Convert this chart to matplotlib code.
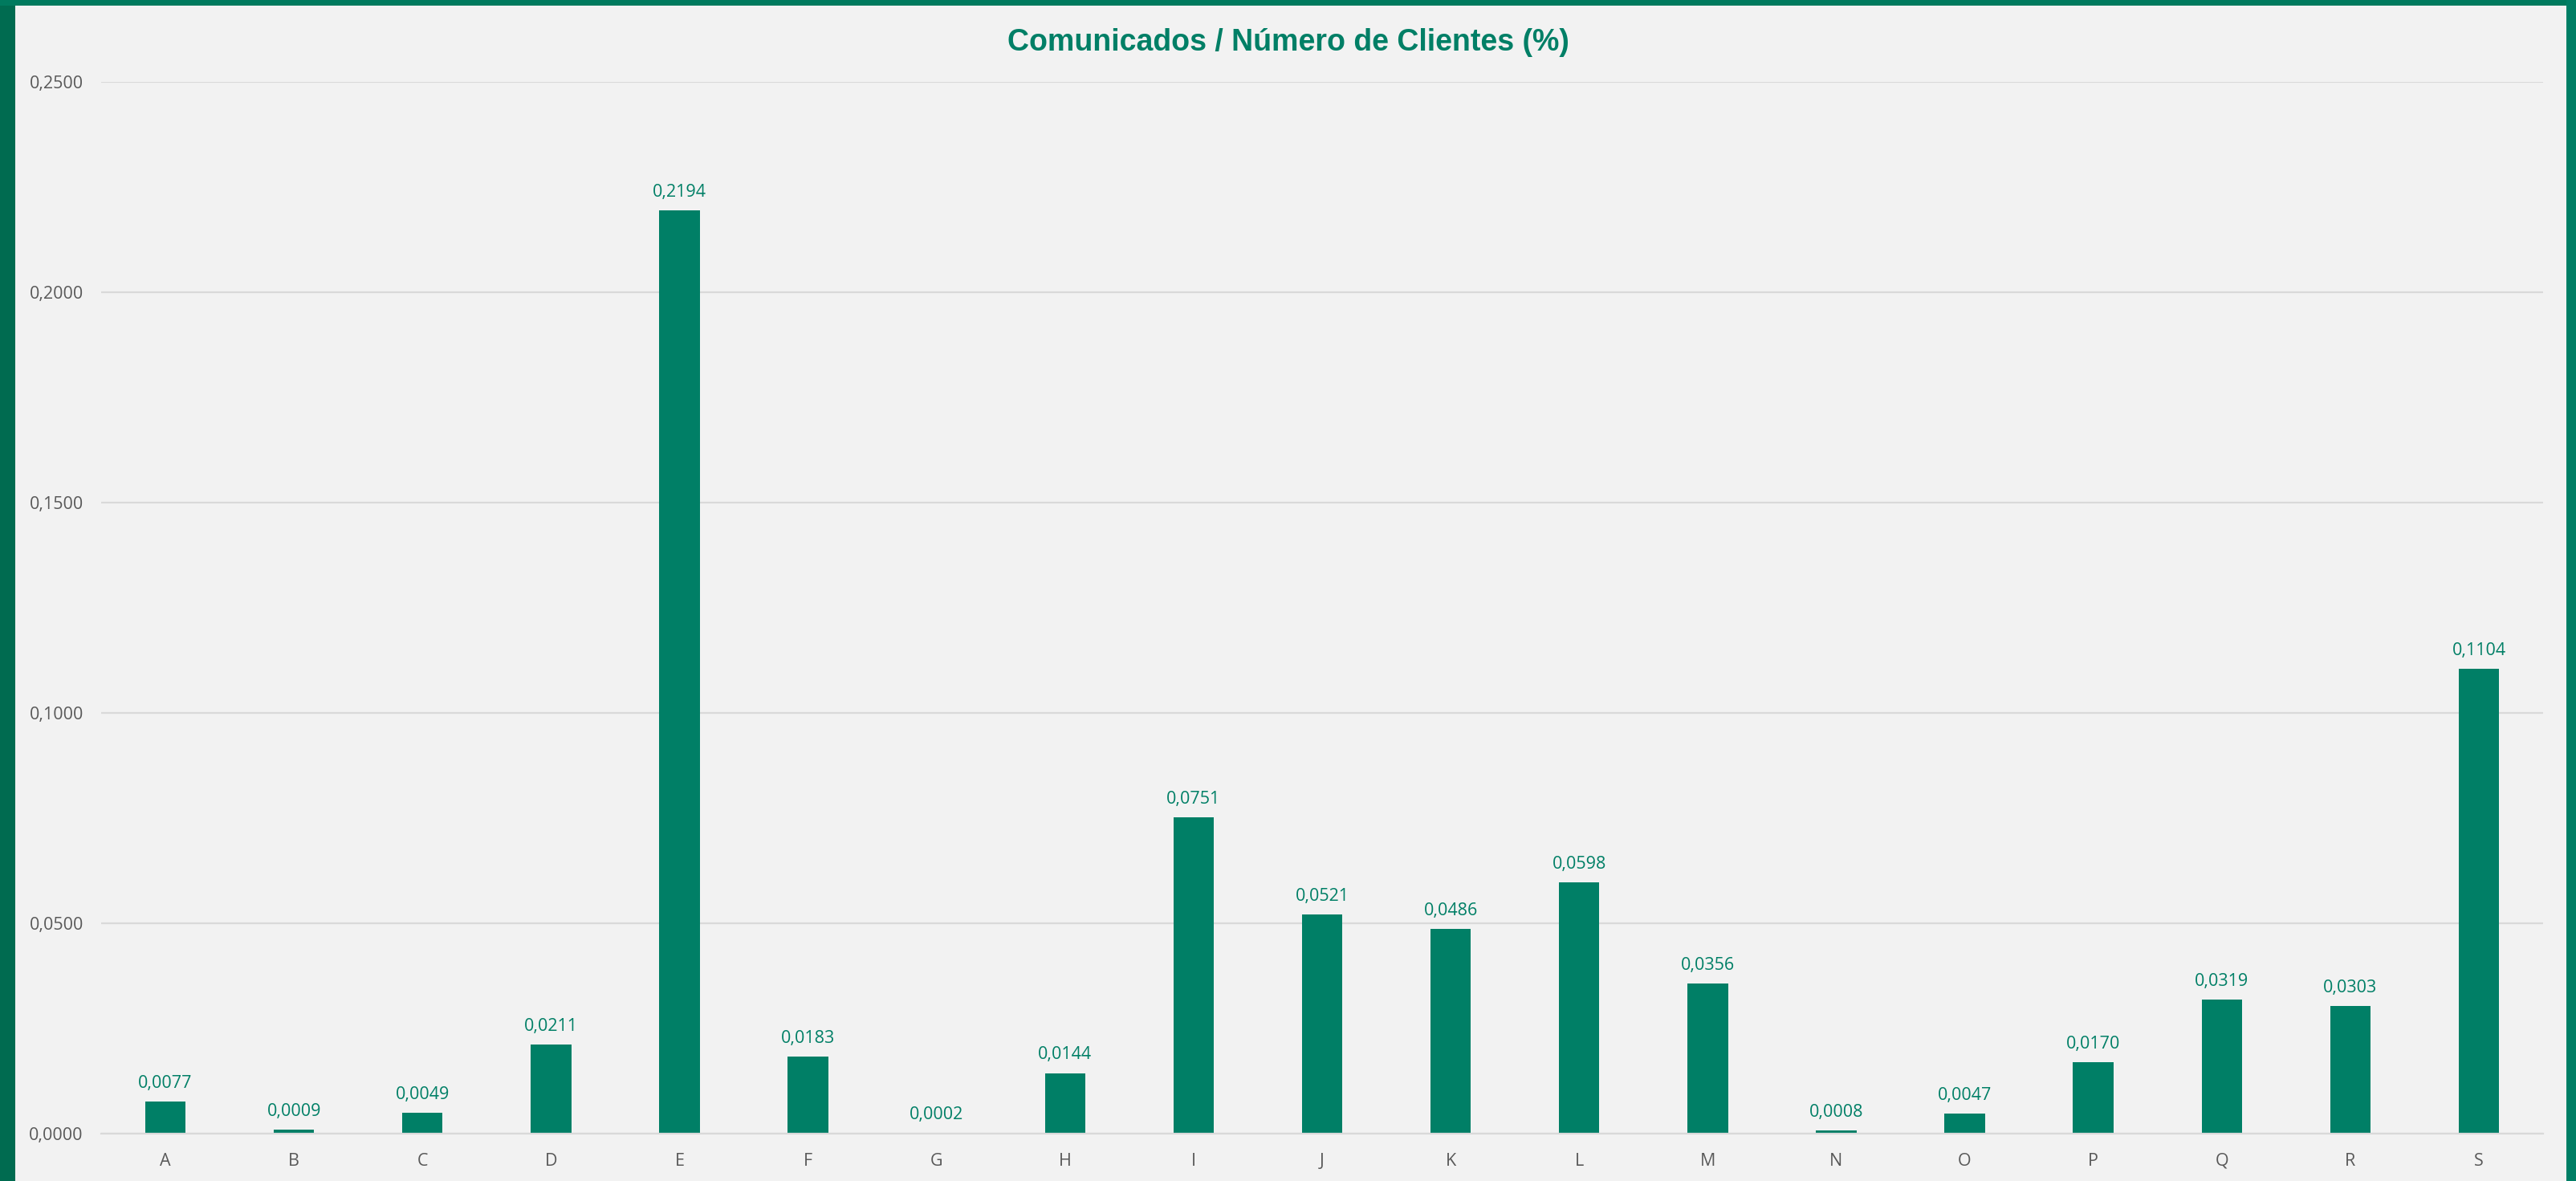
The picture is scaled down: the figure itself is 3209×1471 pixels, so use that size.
import matplotlib
matplotlib.use("Agg")
import matplotlib.pyplot as plt
from matplotlib.patches import Rectangle
from matplotlib.ticker import FuncFormatter

categories = ["A", "B", "C", "D", "E", "F", "G", "H", "I", "J",
              "K", "L", "M", "N", "O", "P", "Q", "R", "S"]
values = [0.0077, 0.0009, 0.0049, 0.0211, 0.2194, 0.0183, 0.0002, 0.0144,
          0.0751, 0.0521, 0.0486, 0.0598, 0.0356, 0.0008, 0.0047, 0.0170,
          0.0319, 0.0303, 0.1104]
yticks = [0.0, 0.05, 0.10, 0.15, 0.20, 0.25]
title = "Comunicados / Número de Clientes (%)"

W, H = 3209, 1471
BG = "#F2F2F2"
GREEN = "#007F66"
GRID = "#D9D9D9"
TXT = "#595959"

fig = plt.figure(figsize=(W / 100, (H + 0.4) / 100), dpi=100)
fig.patch.set_facecolor(BG)

# frame bands
fig.patches.append(Rectangle((0, 0), 19 / W, 1, transform=fig.transFigure,
                             facecolor="#006B50", edgecolor="none", zorder=0))
fig.patches.append(Rectangle((0, 1 - 7 / H), 1, 7 / H, transform=fig.transFigure,
                             facecolor="#007A5E", edgecolor="none", zorder=0))
fig.patches.append(Rectangle((1 - 12 / W, 0), 12 / W, 1, transform=fig.transFigure,
                             facecolor="#007F66", edgecolor="none", zorder=0))

left, right = 126 / W, 3168 / W
bottom, top = (H - 1412) / H, (H - 102) / H
ax = fig.add_axes([left, bottom, right - left, top - bottom])
ax.set_facecolor(BG)

x = list(range(len(categories)))
ax.bar(x, values, width=0.315, color=GREEN, zorder=3)
ax.set_xlim(-0.5, len(categories) - 0.5)
ax.set_ylim(0, 0.25)
ax.set_yticks(yticks)
ax.yaxis.set_major_formatter(FuncFormatter(lambda v, p: f"{v:.4f}".replace(".", ",")))
ax.set_xticks(x)
ax.set_xticklabels(categories)

font = "Open Sans"
FS = 15.5
for lab in ax.get_xticklabels() + ax.get_yticklabels():
    lab.set_fontfamily(font)
    lab.set_fontsize(FS)
    lab.set_color(TXT)
ax.tick_params(axis="y", length=0, pad=16)
ax.tick_params(axis="x", length=0, pad=17)

ax.grid(axis="y", color=GRID, linewidth=1.6, zorder=0)
for s in ["left", "right", "top"]:
    ax.spines[s].set_visible(False)
ax.spines["bottom"].set_color(GRID)
ax.spines["bottom"].set_linewidth(1.6)
ax.spines["bottom"].set_zorder(4)

for xi, v in zip(x, values):
    ax.annotate(f"{v:.4f}".replace(".", ","), (xi, v), xytext=(0, 16.5),
                textcoords="offset points", ha="center", va="center",
                fontfamily=font, fontsize=FS, color=GREEN)

fig.text(0.5, 1 - 53 / H, title, ha="center", va="center",
         fontfamily="Liberation Sans", fontweight="bold", fontsize=27, color=GREEN)

fig.savefig("out.png", dpi=100, facecolor=BG)
